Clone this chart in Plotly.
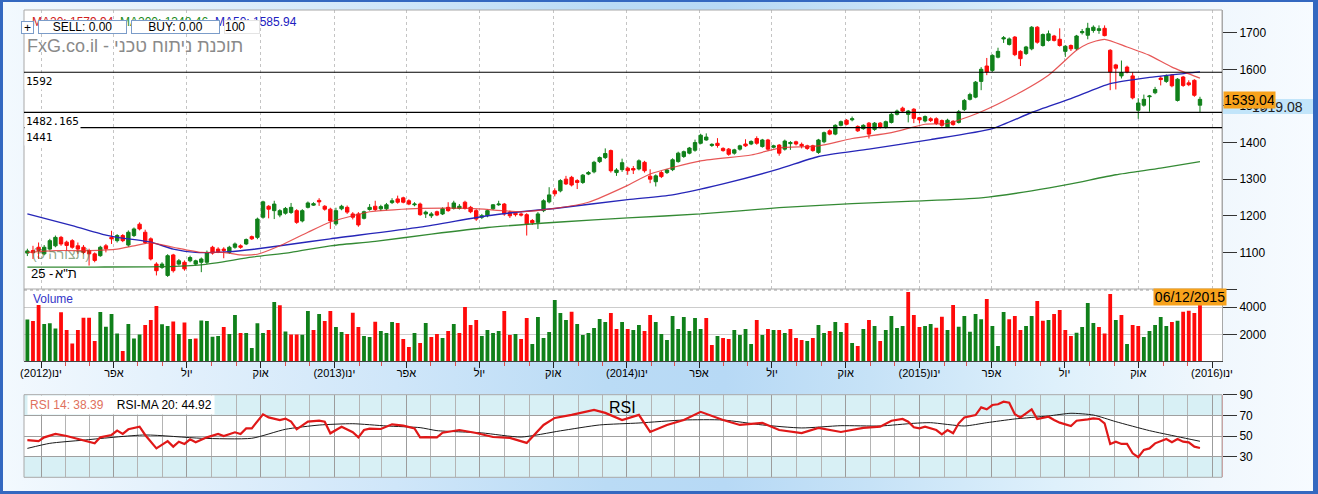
import base64
import pandas as pd
import plotly.graph_objects as go

W, H = 1318, 494

# ---------------- data (weekly candles) ----------------
open_ = [
    1098, 1105, 1114, 1096, 1109, 1118, 1141, 1128, 1132, 1118,
    1114, 1105, 1096, 1091, 1118, 1141, 1132, 1146, 1120, 1146,
    1177, 1155, 1137, 1068, 1059, 1037, 1093, 1068, 1073, 1077,
    1068, 1073, 1073, 1114, 1109, 1109, 1100, 1114, 1118, 1123,
    1143, 1141, 1196, 1226, 1214, 1202, 1207, 1209, 1214, 1186,
    1223, 1229, 1242, 1226, 1218, 1178, 1219, 1223, 1205, 1205,
    1193, 1217, 1226, 1219, 1219, 1236, 1246, 1249, 1241, 1230,
    1232, 1205, 1200, 1211, 1205, 1223, 1220, 1220, 1237, 1223,
    1214, 1196, 1200, 1219, 1230, 1232, 1210, 1207, 1205, 1203,
    1187, 1182, 1214, 1238, 1268, 1268, 1300, 1305, 1296, 1291,
    1314, 1320, 1348, 1359, 1378, 1318, 1326, 1330, 1329, 1328,
    1346, 1308, 1293, 1318, 1318, 1326, 1348, 1362, 1371, 1379,
    1398, 1407, 1392, 1398, 1384, 1382, 1371, 1382, 1396, 1396,
    1411, 1389, 1407, 1387, 1393, 1382, 1397, 1402, 1395, 1391,
    1391, 1373, 1402, 1432, 1423, 1447, 1461, 1462, 1444, 1438,
    1453, 1436, 1453, 1441, 1455, 1477, 1494, 1477, 1491, 1468,
    1459, 1465, 1465, 1460, 1443, 1458, 1455, 1490, 1518, 1524,
    1567, 1609, 1597, 1633, 1683, 1668, 1688, 1649, 1643, 1656,
    1715, 1665, 1679, 1691, 1682, 1649, 1665, 1656, 1700, 1693,
    1706, 1706, 1712, 1652, 1612, 1582, 1606, 1582, 1488, 1502,
    1525, 1536, 1576, 1567, 1584, 1515, 1579, 1563, 1570, 1502,
]
high_ = [
    1110, 1118, 1127, 1120, 1137, 1146, 1145, 1132, 1136, 1127,
    1120, 1110, 1100, 1118, 1123, 1159, 1150, 1150, 1160, 1168,
    1182, 1162, 1141, 1073, 1073, 1095, 1096, 1082, 1078, 1091,
    1080, 1086, 1105, 1118, 1114, 1114, 1118, 1127, 1122, 1138,
    1146, 1195, 1241, 1229, 1241, 1218, 1224, 1235, 1218, 1218,
    1239, 1237, 1248, 1229, 1222, 1222, 1230, 1228, 1210, 1210,
    1214, 1232, 1241, 1230, 1235, 1248, 1255, 1252, 1245, 1237,
    1236, 1214, 1210, 1214, 1223, 1237, 1241, 1232, 1241, 1227,
    1218, 1205, 1217, 1232, 1241, 1235, 1214, 1210, 1209, 1207,
    1191, 1210, 1245, 1278, 1275, 1300, 1309, 1309, 1300, 1314,
    1322, 1350, 1362, 1384, 1381, 1330, 1356, 1334, 1336, 1354,
    1350, 1327, 1313, 1322, 1328, 1357, 1375, 1378, 1388, 1408,
    1424, 1425, 1398, 1412, 1387, 1385, 1383, 1394, 1409, 1406,
    1417, 1410, 1410, 1394, 1396, 1408, 1404, 1405, 1400, 1394,
    1394, 1410, 1430, 1436, 1450, 1460, 1464, 1471, 1447, 1450,
    1456, 1456, 1456, 1460, 1481, 1490, 1498, 1489, 1494, 1470,
    1474, 1469, 1469, 1463, 1465, 1461, 1489, 1519, 1536, 1568,
    1606, 1631, 1641, 1659, 1691, 1687, 1691, 1652, 1664, 1718,
    1718, 1698, 1706, 1694, 1712, 1666, 1668, 1694, 1710, 1727,
    1720, 1720, 1720, 1655, 1615, 1624, 1610, 1592, 1521, 1531,
    1530, 1552, 1582, 1586, 1587, 1576, 1582, 1570, 1573, 1525,
]
low_ = [
    1090, 1082, 1082, 1092, 1105, 1114, 1118, 1105, 1110, 1096,
    1095, 1064, 1073, 1088, 1100, 1123, 1127, 1128, 1115, 1142,
    1160, 1123, 1078, 1037, 1055, 1033, 1045, 1064, 1050, 1073,
    1064, 1046, 1068, 1094, 1098, 1084, 1096, 1110, 1110, 1120,
    1134, 1136, 1192, 1193, 1191, 1196, 1203, 1205, 1178, 1182,
    1220, 1227, 1227, 1214, 1164, 1173, 1215, 1205, 1190, 1170,
    1190, 1214, 1213, 1213, 1215, 1232, 1233, 1234, 1229, 1226,
    1200, 1194, 1194, 1199, 1202, 1211, 1217, 1217, 1217, 1207,
    1186, 1191, 1196, 1216, 1227, 1200, 1194, 1198, 1198, 1146,
    1175, 1164, 1210, 1234, 1253, 1264, 1284, 1280, 1273, 1287,
    1311, 1316, 1344, 1355, 1318, 1309, 1320, 1312, 1314, 1324,
    1318, 1289, 1280, 1303, 1314, 1322, 1345, 1358, 1368, 1375,
    1395, 1405, 1388, 1386, 1375, 1364, 1367, 1378, 1388, 1393,
    1394, 1386, 1378, 1384, 1364, 1378, 1380, 1392, 1384, 1380,
    1375, 1369, 1398, 1420, 1420, 1444, 1447, 1458, 1429, 1435,
    1411, 1432, 1438, 1438, 1452, 1474, 1482, 1455, 1453, 1452,
    1455, 1456, 1448, 1443, 1440, 1446, 1452, 1486, 1515, 1521,
    1543, 1584, 1593, 1630, 1672, 1665, 1636, 1609, 1639, 1652,
    1670, 1662, 1676, 1676, 1662, 1634, 1650, 1652, 1695, 1682,
    1700, 1697, 1690, 1543, 1545, 1575, 1589, 1518, 1465, 1498,
    1484, 1532, 1556, 1563, 1551, 1512, 1552, 1554, 1525, 1482,
]
close_ = [
    1104, 1099, 1105, 1114, 1132, 1141, 1123, 1119, 1114, 1109,
    1100, 1096, 1078, 1114, 1110, 1137, 1146, 1132, 1155, 1164,
    1164, 1127, 1082, 1050, 1068, 1091, 1050, 1077, 1055, 1086,
    1077, 1082, 1100, 1098, 1102, 1105, 1114, 1123, 1114, 1135,
    1137, 1191, 1238, 1218, 1232, 1214, 1220, 1223, 1182, 1214,
    1235, 1233, 1238, 1218, 1186, 1214, 1226, 1210, 1196, 1175,
    1211, 1223, 1217, 1225, 1230, 1241, 1237, 1237, 1232, 1232,
    1203, 1210, 1205, 1202, 1219, 1214, 1235, 1226, 1220, 1211,
    1191, 1200, 1214, 1230, 1232, 1205, 1200, 1203, 1202, 1178,
    1181, 1205, 1241, 1257, 1260, 1296, 1287, 1284, 1291, 1311,
    1318, 1346, 1359, 1370, 1323, 1325, 1345, 1323, 1325, 1350,
    1323, 1300, 1309, 1307, 1325, 1353, 1371, 1375, 1385, 1400,
    1420, 1415, 1395, 1392, 1378, 1368, 1380, 1391, 1391, 1403,
    1398, 1407, 1382, 1391, 1371, 1404, 1400, 1396, 1391, 1384,
    1378, 1407, 1427, 1423, 1447, 1457, 1450, 1465, 1432, 1447,
    1423, 1453, 1441, 1457, 1477, 1486, 1486, 1486, 1466, 1462,
    1471, 1460, 1452, 1447, 1461, 1449, 1484, 1515, 1531, 1565,
    1600, 1593, 1638, 1649, 1686, 1683, 1640, 1629, 1661, 1715,
    1674, 1695, 1697, 1679, 1665, 1663, 1656, 1691, 1703, 1712,
    1715, 1711, 1692, 1593, 1603, 1591, 1593, 1522, 1508, 1518,
    1527, 1545, 1572, 1582, 1555, 1573, 1556, 1558, 1529, 1518,
]
volume = [
    3105, 2982, 4168, 2760, 2809, 2438, 3624, 2315, 1327, 2315,
    3229, 3229, 1500, 3649, 2562, 3500, 2068, 760, 2760, 1697,
    1994, 2686, 3056, 4093, 2735, 2611, 2957, 2019, 2883, 1648,
    1697, 3031, 2982, 1821, 1870, 2537, 2019, 3427, 2093, 2093,
    981, 2809, 2093, 2315, 4390, 4143, 2216, 1994, 1994, 1969,
    3723, 2315, 3500, 2982, 3723, 2535, 2165, 2017, 3597, 2535,
    1869, 1794, 2930, 2239, 2091, 2906, 2832, 1646, 1053, 2091,
    1350, 2832, 1794, 2017, 1720, 2239, 2758, 2091, 4017, 2684,
    3054, 1869, 2313, 2091, 2239, 3721, 1943, 2017, 1646, 3202,
    1276, 3276, 1720, 2165, 4536, 3573, 3054, 3672, 2758, 1943,
    2091, 2461, 3128, 2906, 3573, 2387, 2906, 2387, 2312, 2683,
    2238, 3424, 2905, 2016, 1571, 3349, 2386, 3275, 2238, 3201,
    2386, 3201, 1201, 1867, 1719, 1645, 2312, 1942, 2386, 1275,
    3053, 1942, 2386, 2312, 2312, 2090, 2386, 1719, 1571, 1497,
    1719, 2683, 2090, 2238, 2905, 2164, 2831, 1349, 1127, 2386,
    3053, 2609, 1497, 2312, 3349, 2460, 2609, 5128, 3424, 2534,
    2609, 2755, 2483, 3298, 2310, 4163, 2558, 3347, 2187, 3495,
    3122, 4608, 2607, 1125, 3644, 3122, 3347, 2310, 2607, 3347,
    4460, 3000, 3050, 3495, 3792, 2310, 1866, 2113, 2533, 4311,
    2829, 2533, 2063, 4978, 3050, 3422, 1273, 2681, 2607, 1792,
    2236, 2681, 3274, 2607, 2903, 3000, 3669, 3743, 3570, 4261,
]
# colour of each volume bar: g = green, r = red
vol_dir = (
    "grrgggrrrr" "rrrggggrgg" "grrrggrgrg" "rggggrggrg" "gggrgrgrrg" "grgrr"
    "ggrrrggrgg" "grrrgrgrrg" "rgrrrrgggg" "rrgrrggggg" "ggrggggggr" "rgr"
    "ggrrgggggg" "gggrrgrrgg" "ggrgrgrgrr" "rgrggrggrg" "rgrgrggggr" "rrg"
    "grrgrggggg" "rgggrrrggr" "rgrrrrgggg" "rrrgrgrrgg" "gggrgrrrr"
)

# moving averages: (candle index, value)
ma20_idx = [0, 5, 11, 16, 19, 22, 26, 31, 35, 38, 41, 45, 50, 54, 58, 61, 70, 79, 88, 94,
            100, 107, 111, 120, 129, 134, 141, 147, 154, 160, 164, 170, 176, 182, 187, 189,
            192, 196, 200, 204, 209]
ma20_val = [1100, 1105, 1105, 1109, 1118, 1126, 1114, 1100, 1100, 1093, 1095, 1118, 1155, 1183,
            1200, 1211, 1220, 1220, 1211, 1220, 1237, 1283, 1314, 1350, 1366, 1385, 1391, 1411,
            1427, 1450, 1452, 1484, 1529, 1584, 1652, 1670, 1682, 1661, 1638, 1606, 1576]
ma50_idx = [0, 8, 14, 16, 22, 26, 30, 36, 40, 46, 54, 70, 82, 88, 94, 107, 115, 124, 134, 141,
            150, 161, 172, 179, 186, 193, 200, 209]
ma50_val = [1205, 1173, 1147, 1141, 1128, 1109, 1100, 1102, 1108, 1120, 1137, 1169, 1200, 1211,
            1220, 1244, 1257, 1287, 1328, 1362, 1382, 1408, 1438, 1482, 1520, 1561, 1578, 1593]
ma200_idx = [0, 12, 24, 31, 40, 47, 54, 62, 72, 82, 95, 107, 120, 134, 147, 158, 170, 179, 186,
             194, 202, 209]
ma200_val = [1060, 1060, 1061, 1066, 1087, 1100, 1118, 1130, 1150, 1168, 1183, 1194, 1205, 1222,
             1233, 1240, 1249, 1268, 1287, 1312, 1330, 1348]

# RSI 14 and its 20-period MA: (candle index, value)
rsi_idx = [0, 2, 3, 5, 7, 8, 10, 12, 13, 15, 16, 17, 18, 20, 21, 23, 25, 26, 27, 28,
           29, 30, 32, 34, 35, 37, 38, 39, 40, 42, 43, 44, 45, 46, 47, 48, 50, 52, 53, 54,
           56, 58, 59, 60, 61, 63, 64, 65, 67, 69, 70, 71, 73, 74,
           77, 80, 83, 86, 89, 92, 94, 97, 101, 103, 106, 109, 111, 114, 117, 120, 124, 127,
           131, 134, 138, 141, 145, 149,
           152, 154, 156, 157, 158, 159, 160, 162, 163, 164, 165, 166, 167, 169, 170, 171,
           172, 173, 174, 175, 176, 177, 178, 179, 180, 182, 183, 184, 186, 187, 189, 190,
           191, 192, 193, 194, 195, 196, 197, 198, 199, 200, 201, 203, 204, 205, 206, 207,
           208, 209]
rsi_val = [46.0, 45.0, 48.7, 52.0, 50.0, 48.7, 46.0, 42.9, 48.7, 51.0, 55.2, 52.0, 56.5, 59.0,
           51.0, 38.0, 45.0, 39.7, 44.5, 42.3, 46.8, 43.9, 48.7, 52.0, 50.0, 53.6, 52.0, 57.4,
           57.4, 71.0, 68.0, 67.0, 65.5, 66.8, 63.9, 56.5, 63.9, 64.8, 63.9, 52.6, 59.0, 53.6,
           48.7, 55.8, 57.1, 56.8, 59.0, 61.3, 60.0, 57.4, 48.7, 49.0, 48.7, 53.2,
           55.8, 52.9, 49.0, 48.1, 43.3, 60.7, 67.5, 70.5, 75.3, 72.4, 65.5, 70.5, 53.9, 60.7,
           65.5, 73.4, 65.5, 60.7, 62.6, 55.8, 52.9, 57.8, 53.9, 57.8,
           59.0, 64.8, 66.5, 63.9, 58.4, 57.4, 59.0, 55.8, 51.6, 55.8, 52.6, 62.3, 68.0, 70.3,
           77.7, 75.8, 80.0, 80.7, 83.2, 82.3, 71.0, 68.0, 72.0, 75.8, 66.5, 68.7, 65.5, 62.9,
           59.7, 64.8, 66.1, 67.1, 66.5, 62.3, 42.3, 44.5, 42.3, 42.3, 33.2, 29.4, 36.5, 38.0,
           42.9, 47.1, 43.9, 47.1, 44.5, 43.9, 39.7, 38.4]
rsima_idx = [0, 4, 10, 21, 31, 40, 46, 52, 58, 64, 70, 73, 81, 88, 95, 102, 109, 117, 124, 131,
             138, 145, 152, 158, 161, 167, 171, 176, 182, 186, 190, 194, 200, 205, 209]
rsima_val = [38.0, 42.9, 46.0, 51.0, 47.8, 47.8, 56.5, 60.6, 61.9, 59.7, 58.1, 55.2, 53.0, 49.0,
             55.0, 60.7, 62.6, 65.5, 65.5, 60.7, 57.8, 60.0, 59.7, 62.3, 62.9, 59.7, 62.9, 66.5,
             69.4, 72.0, 70.3, 63.9, 55.2, 49.4, 44.9]

quarter_ticks = ['2012-01-01', '2012-04-01', '2012-07-01', '2012-10-01',
                 '2013-01-01', '2013-04-01', '2013-07-01', '2013-10-01',
                 '2014-01-01', '2014-04-01', '2014-07-01', '2014-10-01',
                 '2015-01-01', '2015-04-01', '2015-07-01', '2015-10-01', '2016-01-01']
quarter_labels = ['(2012)ינו', 'אפר', 'יול', 'אוק', '(2013)ינו', 'אפר', 'יול', 'אוק',
                  '(2014)ינו', 'אפר', 'יול', 'אוק', '(2015)ינו', 'אפר', 'יול', 'אוק', '(2016)ינו']
price_ticks = [1000, 1100, 1200, 1300, 1400, 1500, 1600, 1700]
price_ticktext = ['', '1100', '1200', '1300', '1400', '1500', '1600', '1700']
vol_ticks = [2000, 4000]
rsi_ticks = [30, 50, 70, 90]
levels = [1592, 1482.165, 1441]
level_labels = ['1592', '1482.165', '1441']

dates = pd.date_range(end='2015-12-17', periods=len(close_), freq='7D')

# ---------------- styling ----------------
GREEN = '#10801a'
RED = '#ff0a0a'
FONT = 'Liberation Sans'
MONO = 'DejaVu Sans Mono'


def px(xp):
    return xp / W


def py(yp):
    return 1 - yp / H


X0, X1 = px(24), px(1222)
P_TOP, P_BOT = 10, 289
V_TOP, V_BOT = 289, 361.3
R_TOP, R_BOT = 394.7, 477.3
XRANGE = ['2011-12-10 19:00', '2016-01-13 11:30']

fig = go.Figure()
fig.add_trace(go.Candlestick(
    x=dates, open=open_, high=high_, low=low_, close=close_,
    increasing=dict(line=dict(color=GREEN, width=1), fillcolor=GREEN),
    decreasing=dict(line=dict(color=RED, width=1), fillcolor=RED),
    whiskerwidth=0, xaxis='x', yaxis='y', hoverinfo='skip'))


def pick(idx):
    return [dates[i] for i in idx]


fig.add_trace(go.Scatter(x=pick(ma200_idx), y=ma200_val, mode='lines', xaxis='x', yaxis='y',
                         line=dict(color='rgba(30,125,30,0.9)', width=1.3, shape='spline', smoothing=0.6)))
fig.add_trace(go.Scatter(x=pick(ma50_idx), y=ma50_val, mode='lines', xaxis='x', yaxis='y',
                         line=dict(color='#2626b8', width=1.4, shape='spline', smoothing=0.6)))
fig.add_trace(go.Scatter(x=pick(ma20_idx), y=ma20_val, mode='lines', xaxis='x', yaxis='y',
                         line=dict(color='rgba(225,45,45,0.8)', width=1.2, shape='spline', smoothing=0.6)))

fig.add_trace(go.Bar(x=dates, y=volume, xaxis='x2', yaxis='y2',
                     marker=dict(color=[GREEN if d == 'g' else RED for d in vol_dir], line=dict(width=0))))

fig.add_trace(go.Scatter(x=pick(rsima_idx), y=rsima_val, mode='lines', xaxis='x3', yaxis='y3',
                         line=dict(color='#1a1a1a', width=1, shape='spline', smoothing=0.6)))
fig.add_trace(go.Scatter(x=pick(rsi_idx), y=rsi_val, mode='lines', xaxis='x3', yaxis='y3',
                         line=dict(color='#e01818', width=2.2)))

# gradient background as an svg image
stops = [(0.0, '#f3f9fe'), (0.12, '#e4f1fc'), (0.3, '#cfe6f9'), (0.46, '#badbf5'),
         (0.55, '#b7d9f5'), (0.66, '#c6e2f7'), (0.8, '#def0fb'), (0.92, '#f0f7fd'), (1.0, '#f7fbff')]
stop_xml = ''.join(f'<stop offset="{o}" stop-color="{c}"/>' for o, c in stops)
svg = (f'<svg xmlns="http://www.w3.org/2000/svg" width="{W}" height="{H}" viewBox="0 0 {W} {H}" '
       f'preserveAspectRatio="none"><defs><linearGradient id="g" x1="0" y1="0" x2="1" y2="0">'
       f'{stop_xml}</linearGradient></defs><rect width="{W}" height="{H}" fill="url(#g)"/></svg>')
uri = 'data:image/svg+xml;base64,' + base64.b64encode(svg.encode()).decode()

shapes = []
# white panel backgrounds
for top, bot in [(P_TOP, P_BOT), (V_TOP, V_BOT), (R_TOP, R_BOT)]:
    shapes.append(dict(type='rect', xref='paper', yref='paper', x0=X0, x1=X1, y0=py(bot), y1=py(top),
                       fillcolor='white', line=dict(width=0), layer='below'))
# RSI shaded zones
for a, b in [(70, 90), (10, 30)]:
    shapes.append(dict(type='rect', xref='paper', yref='y3', x0=X0, x1=X1, y0=a, y1=b,
                       fillcolor='#d8f0f5', line=dict(width=0), layer='below'))
# light blue price box at right
shapes.append(dict(type='rect', xref='paper', yref='paper', x0=px(1222), x1=px(1313), y0=py(114), y1=py(99),
                   fillcolor='#c2e5fa', line=dict(width=0), layer='below'))
# panel borders
for top, bot in [(P_TOP, P_BOT), (R_TOP, R_BOT)]:
    shapes.append(dict(type='rect', xref='paper', yref='paper', x0=X0, x1=X1, y0=py(bot), y1=py(top),
                       fillcolor='rgba(0,0,0,0)', line=dict(color='#a8a8a8', width=1), layer='above'))
shapes.append(dict(type='line', xref='paper', yref='paper', x0=X0, x1=X0, y0=py(V_BOT), y1=py(V_TOP),
                   line=dict(color='#a8a8a8', width=1)))
shapes.append(dict(type='line', xref='paper', yref='paper', x0=X0, x1=X1, y0=py(V_TOP + 1), y1=py(V_TOP + 1),
                   line=dict(color='#9a9a9a', width=1, dash='dot')))
# horizontal price levels
for lv in levels:
    shapes.append(dict(type='line', xref='paper', yref='y', x0=X0, x1=X1, y0=lv, y1=lv,
                       line=dict(color='black', width=1.2), layer='above'))
# dark blue frame
FR = '#3468c0'
for x0, x1, y0, y1 in [(0, 3, 0, H), (1313, W, 0, H), (0, W, 0, 2), (0, W, 491, H)]:
    shapes.append(dict(type='rect', xref='paper', yref='paper', x0=px(x0), x1=px(x1), y0=py(y1), y1=py(y0),
                       fillcolor=FR, line=dict(width=0), layer='above'))

ann = []


def add(text, x, y, **kw):
    d = dict(text=text, x=px(x), y=py(y), xref='paper', yref='paper', showarrow=False,
             xanchor='left', yanchor='middle')
    d.update(kw)
    ann.append(d)


add('MA20: 1579.94', 30, 22, font=dict(size=12, color='#d02020'))
add('MA200: 1348.46', 118, 22, font=dict(size=12, color='#208a20'))
add('MA50: 1585.94', 213, 22, font=dict(size=12, color='#2020c0'))
BTN = '#7b9cc9'
add('+', 27, 27.5, xanchor='center', width=11, height=11, borderpad=0, borderwidth=1,
    bordercolor=BTN, bgcolor='white', font=dict(size=12, color='black'))
add('SELL: 0.00', 82.8, 27.5, xanchor='center', width=87, height=12, borderpad=0, borderwidth=1,
    bordercolor=BTN, bgcolor='white', font=dict(size=12, color='black'))
add('BUY: 0.00', 175.5, 27.5, xanchor='center', width=87, height=12, borderpad=0, borderwidth=1,
    bordercolor=BTN, bgcolor='white', font=dict(size=12, color='black'))
add('100', 242, 27.5, xanchor='center', width=34, height=12, borderpad=0, borderwidth=1, align='left',
    bordercolor='#e4e4e4', bgcolor='white', font=dict(size=12, color='black'))
add('FxG.co.il - תוכנת ניתוח טכני', 25, 46, font=dict(size=18, color='#8a8a8a'))
for lv, lab in zip(levels, level_labels):
    ann.append(dict(text=lab, x=px(24), y=lv, xref='paper', yref='y', showarrow=False,
                    xanchor='left', yanchor='top', yshift=-1, bgcolor='white', borderpad=1,
                    font=dict(family=MONO, size=11, color='black')))
add('(תצורה 5)', 30, 253.5, font=dict(size=14, color='rgba(70,110,60,0.6)'))
# index name, drawn as two pieces so the digits sit on the left as in the picture
add('25 -', 29, 273, font=dict(family=FONT, size=13, color='black'))
add('ת"א', 53, 273, font=dict(family=FONT, size=13, color='black'))
add('Volume', 31, 298.5, font=dict(size=12, color='#3434c8'))
add('06/12/2015', 1190, 297, xanchor='center', width=70, height=14, borderpad=1,
    bgcolor='#f7a21c', font=dict(size=14, color='black'))
add('1519.08', 1305, 106.5, xanchor='right', font=dict(size=14, color='#222'))
add('1539.04', 1249.5, 100, xanchor='center', width=49, height=14, borderpad=1,
    bgcolor='#f7a21c', font=dict(size=14, color='black'))
add("<span style='color:#e0705c'>RSI 14: 38.39</span>&nbsp;&nbsp;&nbsp;&nbsp;RSI-MA 20: 44.92",
    27, 405, bgcolor='white', borderpad=2, font=dict(size=12, color='black'))
add('RSI', 622, 407.5, xanchor='center', font=dict(size=16, color='black'))

axis_font = dict(family=FONT, size=12, color='black')
common_x = dict(domain=[X0, X1], range=XRANGE, type='date', zeroline=False, automargin=False,
                tickmode='array', tickvals=quarter_ticks)

fig.update_layout(
    template='none',
    width=W, height=H, autosize=False, margin=dict(l=0, r=0, t=0, b=0, pad=0, autoexpand=False),
    paper_bgcolor='#eaf4fc', plot_bgcolor='rgba(0,0,0,0)', showlegend=False,
    font=dict(family=FONT, size=12, color='black'),
    bargap=0.32, boxgap=0.2, boxgroupgap=0.25,
    xaxis=dict(**common_x, anchor='y', showticklabels=False, ticks='', showgrid=True,
               gridcolor='#c4c4c4', griddash='dot', rangeslider=dict(visible=False), showline=False),
    yaxis=dict(domain=[py(P_BOT), py(P_TOP)], range=[1000, 1762], side='right', anchor='x',
               tickmode='array', tickvals=price_ticks, ticktext=price_ticktext, automargin=False,
               ticks='outside', ticklen=14, tickcolor='#333', showgrid=False, zeroline=False,
               showline=True, linecolor='#a8a8a8', tickfont=axis_font),
    xaxis2=dict(**common_x, anchor='y2', ticktext=quarter_labels, ticks='outside', ticklen=6,
                tickcolor='#222', showgrid=False, showline=True, linecolor='#444',
                ticklabelstandoff=-5,
                tickfont=dict(family=FONT, size=11, color='black'),
                minor=dict(ticks='outside', ticklen=4, tickcolor='#e05050', dtick='M1',
                           tick0='2012-01-01', showgrid=False)),
    yaxis2=dict(domain=[py(V_BOT), py(V_TOP)], range=[0, 5355], side='right', anchor='x2',
                tickmode='array', tickvals=vol_ticks, ticks='outside', ticklen=14, tickcolor='#333',
                showgrid=True, gridcolor='#cccccc', zeroline=False, showline=True, automargin=False,
                linecolor='#a8a8a8', tickfont=axis_font),
    xaxis3=dict(**common_x, anchor='y3', showticklabels=False, ticks='', showgrid=True,
                gridcolor='#9c9c9c', showline=False,
                minor=dict(showgrid=True, gridcolor='#b4b4b4', dtick='M1', tick0='2012-01-01')),
    yaxis3=dict(domain=[py(R_BOT), py(R_TOP)], range=[10, 90], side='right', anchor='x3',
                tickmode='array', tickvals=rsi_ticks, ticks='outside', ticklen=14, tickcolor='#333',
                showgrid=True, gridcolor='#a0a0a0', zeroline=False, showline=True, automargin=False,
                linecolor='#e8a0a0', tickfont=axis_font),
    shapes=shapes, annotations=ann,
    images=[dict(source=uri, xref='paper', yref='paper', x=0, y=1, sizex=1, sizey=1,
                 xanchor='left', yanchor='top', sizing='stretch', layer='below')],
)

fig.write_html('out.html', config={'displayModeBar': False, 'responsive': False},
               post_script="document.documentElement.style.margin='0px';"
                           "document.body.style.margin='0px';document.body.style.padding='0px';"
                           "document.documentElement.style.overflow='hidden';"
                           "document.body.style.overflow='hidden';")
